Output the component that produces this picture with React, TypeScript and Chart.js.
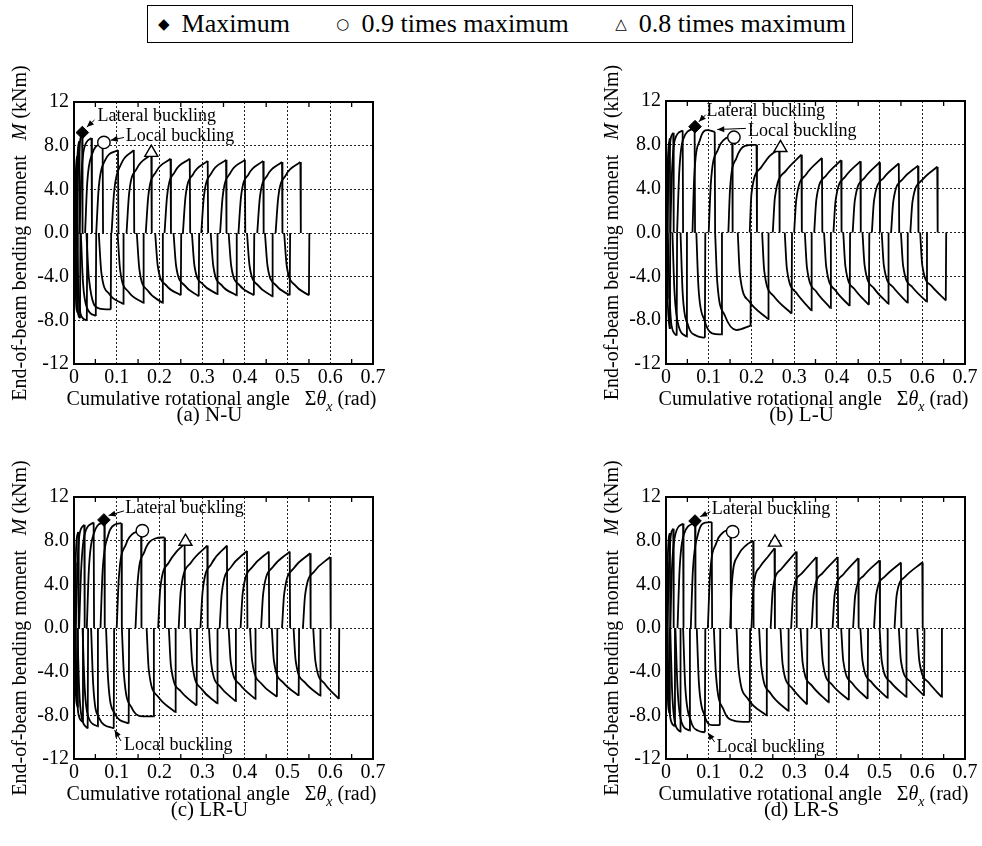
import React, { useEffect, useRef } from 'react';
import { Chart, registerables } from 'chart.js';

Chart.register(...registerables);

const SERIF = '"Liberation Serif", "Times New Roman", Times, serif';
Chart.defaults.font.family = SERIF;
Chart.defaults.color = '#000';

// ---------- axis ticks ----------
const X_TICKS = [0, 0.1, 0.2, 0.3, 0.4, 0.5, 0.6, 0.7];
const X_TICK_LABELS = ['0', '0.1', '0.2', '0.3', '0.4', '0.5', '0.6', '0.7'];
const X_MINOR = [0.05, 0.15, 0.25, 0.35, 0.45, 0.55, 0.65];
const Y_TICKS = [-12, -8, -4, 0, 4, 8, 12];
const Y_TICK_LABELS = ['-12', '-8.0', '-4.0', '0.0', '4.0', '8.0', '12'];

// ---------- data: each half-cycle as [x,M, x,M, ..., peakX,peakM, endX,0] ----------
// (a) N-U
const A_POS = [
  [0.000, 0, 0.001, 2.5, 0.002, 3.8, 0.003, 4.3, 0.004, 0],
  [0.001, 0, 0.003, 4.0, 0.005, 6.2, 0.007, 7.0, 0.008, 0],
  [0.003, 0, 0.006, 5.0, 0.009, 7.6, 0.012, 8.4, 0.013, 0],
  [0.006, 0, 0.009, 5.0, 0.013, 8.0, 0.019, 9.2, 0.020, 0],
  [0.013, 0, 0.017, 5.0, 0.024, 7.8, 0.041, 8.7, 0.042, 0],
  [0.026, 0, 0.031, 4.6, 0.042, 7.2, 0.067, 8.3, 0.068, 0],
  [0.052, 0, 0.058, 4.2, 0.072, 6.6, 0.103, 7.6, 0.104, 0],
  [0.088, 0, 0.094, 3.8, 0.110, 6.3, 0.140, 7.6, 0.141, 0],
  [0.123, 0, 0.129, 3.6, 0.147, 5.9, 0.181, 7.2, 0.182, 0],
  [0.168, 0, 0.174, 3.4, 0.192, 5.6, 0.226, 6.8, 0.227, 0],
  [0.212, 0, 0.218, 3.4, 0.236, 5.6, 0.271, 6.8, 0.272, 0],
  [0.255, 0, 0.261, 3.3, 0.279, 5.4, 0.313, 6.6, 0.314, 0],
  [0.298, 0, 0.304, 3.3, 0.322, 5.5, 0.356, 6.7, 0.357, 0],
  [0.342, 0, 0.348, 3.3, 0.366, 5.5, 0.400, 6.7, 0.401, 0],
  [0.385, 0, 0.391, 3.3, 0.409, 5.4, 0.443, 6.6, 0.444, 0],
  [0.429, 0, 0.435, 3.2, 0.453, 5.3, 0.487, 6.5, 0.488, 0],
  [0.472, 0, 0.478, 3.2, 0.496, 5.3, 0.530, 6.5, 0.531, 0],
];
const A_NEG = [
  [0.000, 0, 0.001, -2.5, 0.002, -4.0, 0.003, -4.5, 0.004, 0],
  [0.001, 0, 0.003, -4.0, 0.005, -6.5, 0.008, -7.3, 0.009, 0],
  [0.003, 0, 0.006, -4.5, 0.009, -7.2, 0.014, -7.8, 0.015, 0],
  [0.006, 0, 0.010, -4.8, 0.016, -7.5, 0.030, -8.0, 0.031, 0],
  [0.016, 0, 0.021, -4.5, 0.031, -6.9, 0.051, -7.6, 0.052, 0],
  [0.029, 0, 0.035, -4.2, 0.058, -6.9, 0.086, -7.0, 0.087, 0],
  [0.058, 0, 0.064, -3.6, 0.083, -5.6, 0.115, -6.5, 0.116, 0],
  [0.102, 0, 0.108, -3.4, 0.128, -5.4, 0.162, -6.4, 0.163, 0],
  [0.147, 0, 0.153, -3.3, 0.173, -5.3, 0.207, -6.4, 0.208, 0],
  [0.190, 0, 0.196, -3.0, 0.216, -4.8, 0.250, -5.7, 0.251, 0],
  [0.233, 0, 0.239, -3.0, 0.259, -4.8, 0.292, -5.8, 0.293, 0],
  [0.276, 0, 0.282, -3.0, 0.302, -4.7, 0.335, -5.6, 0.336, 0],
  [0.320, 0, 0.326, -3.0, 0.346, -4.8, 0.380, -5.7, 0.381, 0],
  [0.362, 0, 0.368, -3.0, 0.388, -4.8, 0.421, -5.7, 0.422, 0],
  [0.405, 0, 0.411, -3.0, 0.431, -4.8, 0.464, -5.8, 0.465, 0],
  [0.447, 0, 0.453, -3.0, 0.473, -4.8, 0.505, -5.7, 0.506, 0],
  [0.492, 0, 0.498, -3.0, 0.518, -4.8, 0.550, -5.7, 0.551, 0],
];
const A_MAX = [0.0195, 9.2];
const A_090 = [0.070, 8.3];
const A_080 = [0.181, 7.36];

// (b) L-U
const B_POS = [
  [0.000, 0, 0.001, 3.0, 0.002, 5.0, 0.003, 5.8, 0.004, 0],
  [0.001, 0, 0.003, 5.0, 0.006, 7.8, 0.009, 8.6, 0.010, 0],
  [0.003, 0, 0.006, 5.5, 0.010, 8.3, 0.017, 9.1, 0.018, 0],
  [0.010, 0, 0.014, 5.5, 0.021, 8.5, 0.039, 9.3, 0.040, 0],
  [0.026, 0, 0.031, 5.5, 0.040, 8.5, 0.067, 9.5, 0.068, 0],
  [0.062, 0, 0.066, 5.0, 0.080, 8.5, 0.097, 9.35, 0.114, 9.2, 0.115, 0],
  [0.100, 0, 0.105, 4.5, 0.122, 7.6, 0.140, 8.6, 0.155, 8.75, 0.156, 0],
  [0.146, 0, 0.150, 4.0, 0.165, 6.8, 0.185, 7.9, 0.212, 8.0, 0.213, 0],
  [0.196, 0, 0.200, 3.5, 0.222, 5.9, 0.243, 7.0, 0.265, 7.6, 0.266, 0],
  [0.250, 0, 0.255, 3.2, 0.280, 5.6, 0.317, 7.1, 0.318, 0],
  [0.300, 0, 0.305, 3.0, 0.328, 5.3, 0.365, 6.8, 0.366, 0],
  [0.347, 0, 0.352, 3.0, 0.375, 5.2, 0.410, 6.6, 0.411, 0],
  [0.392, 0, 0.397, 2.9, 0.420, 5.1, 0.455, 6.5, 0.456, 0],
  [0.437, 0, 0.442, 2.9, 0.465, 5.0, 0.500, 6.4, 0.501, 0],
  [0.482, 0, 0.487, 2.9, 0.510, 5.0, 0.545, 6.3, 0.546, 0],
  [0.527, 0, 0.532, 2.8, 0.555, 4.9, 0.590, 6.1, 0.591, 0],
  [0.572, 0, 0.577, 2.8, 0.600, 4.8, 0.635, 6.0, 0.636, 0],
];
const B_NEG = [
  [0.000, 0, 0.001, -3.0, 0.002, -5.0, 0.003, -6.0, 0.004, 0],
  [0.001, 0, 0.003, -5.0, 0.006, -7.8, 0.009, -8.8, 0.010, 0],
  [0.004, 0, 0.008, -5.5, 0.013, -8.5, 0.025, -9.4, 0.026, 0],
  [0.015, 0, 0.020, -5.5, 0.030, -8.6, 0.048, -9.5, 0.049, 0],
  [0.034, 0, 0.039, -5.5, 0.052, -8.5, 0.070, -9.4, 0.091, -9.6, 0.092, 0],
  [0.071, 0, 0.076, -5.0, 0.090, -8.0, 0.108, -9.2, 0.130, -9.3, 0.131, 0],
  [0.115, 0, 0.120, -4.5, 0.138, -7.6, 0.165, -8.9, 0.198, -8.5, 0.199, 0],
  [0.168, 0, 0.173, -3.8, 0.195, -6.3, 0.239, -7.9, 0.240, 0],
  [0.225, 0, 0.230, -3.5, 0.252, -5.8, 0.294, -7.4, 0.295, 0],
  [0.278, 0, 0.283, -3.3, 0.305, -5.5, 0.340, -7.1, 0.341, 0],
  [0.325, 0, 0.330, -3.2, 0.352, -5.4, 0.385, -6.9, 0.386, 0],
  [0.370, 0, 0.375, -3.1, 0.397, -5.3, 0.430, -6.7, 0.431, 0],
  [0.415, 0, 0.420, -3.1, 0.442, -5.2, 0.475, -6.6, 0.476, 0],
  [0.460, 0, 0.465, -3.0, 0.487, -5.1, 0.520, -6.5, 0.521, 0],
  [0.505, 0, 0.510, -3.0, 0.532, -5.0, 0.565, -6.4, 0.566, 0],
  [0.550, 0, 0.555, -3.0, 0.577, -5.0, 0.610, -6.3, 0.611, 0],
  [0.595, 0, 0.600, -3.0, 0.622, -4.9, 0.655, -6.2, 0.656, 0],
];
const B_MAX = [0.068, 9.66];
const B_090 = [0.159, 8.69];
const B_080 = [0.268, 7.73];

// (c) LR-U
const C_POS = [
  [0.000, 0, 0.001, 3.0, 0.002, 5.0, 0.003, 6.0, 0.004, 0],
  [0.001, 0, 0.003, 5.0, 0.006, 8.0, 0.010, 8.8, 0.011, 0],
  [0.004, 0, 0.008, 5.5, 0.013, 8.6, 0.024, 9.45, 0.025, 0],
  [0.012, 0, 0.017, 5.5, 0.025, 8.6, 0.046, 9.66, 0.047, 0],
  [0.030, 0, 0.035, 5.5, 0.046, 8.6, 0.071, 9.8, 0.072, 0],
  [0.062, 0, 0.067, 5.2, 0.080, 8.5, 0.095, 9.45, 0.111, 9.6, 0.112, 0],
  [0.100, 0, 0.105, 4.6, 0.122, 7.7, 0.140, 8.7, 0.157, 8.85, 0.158, 0],
  [0.144, 0, 0.149, 4.2, 0.165, 7.0, 0.190, 8.2, 0.212, 8.3, 0.213, 0],
  [0.197, 0, 0.202, 3.6, 0.222, 6.0, 0.240, 7.0, 0.259, 7.7, 0.260, 0],
  [0.245, 0, 0.250, 3.4, 0.274, 6.0, 0.312, 7.55, 0.313, 0],
  [0.296, 0, 0.301, 3.3, 0.322, 5.9, 0.358, 7.55, 0.359, 0],
  [0.341, 0, 0.346, 3.2, 0.368, 5.6, 0.405, 7.06, 0.406, 0],
  [0.390, 0, 0.395, 3.2, 0.418, 5.6, 0.456, 7.0, 0.457, 0],
  [0.438, 0, 0.443, 3.2, 0.466, 5.6, 0.505, 7.0, 0.506, 0],
  [0.487, 0, 0.492, 3.1, 0.515, 5.5, 0.553, 6.85, 0.554, 0],
  [0.536, 0, 0.541, 3.0, 0.563, 5.2, 0.600, 6.5, 0.601, 0],
];
const C_NEG = [
  [0.000, 0, 0.001, -3.0, 0.002, -5.0, 0.003, -6.0, 0.004, 0],
  [0.001, 0, 0.003, -4.5, 0.005, -6.5, 0.008, -7.2, 0.009, 0],
  [0.003, 0, 0.006, -5.0, 0.010, -7.8, 0.020, -8.6, 0.021, 0],
  [0.008, 0, 0.012, -5.5, 0.018, -8.2, 0.032, -9.2, 0.033, 0],
  [0.020, 0, 0.025, -5.5, 0.034, -8.2, 0.055, -9.0, 0.056, 0],
  [0.040, 0, 0.045, -5.2, 0.058, -8.2, 0.093, -9.2, 0.094, 0],
  [0.075, 0, 0.080, -4.8, 0.095, -7.8, 0.128, -8.75, 0.129, 0],
  [0.112, 0, 0.117, -4.3, 0.135, -7.3, 0.163, -8.1, 0.186, -8.1, 0.187, 0],
  [0.170, 0, 0.175, -3.8, 0.197, -6.3, 0.237, -7.7, 0.238, 0],
  [0.222, 0, 0.227, -3.5, 0.250, -5.8, 0.287, -7.1, 0.288, 0],
  [0.272, 0, 0.277, -3.3, 0.299, -5.6, 0.335, -6.9, 0.336, 0],
  [0.316, 0, 0.321, -3.2, 0.343, -5.4, 0.378, -6.7, 0.379, 0],
  [0.362, 0, 0.367, -3.1, 0.389, -5.2, 0.424, -6.5, 0.425, 0],
  [0.412, 0, 0.417, -3.0, 0.439, -5.1, 0.475, -6.3, 0.476, 0],
  [0.463, 0, 0.468, -3.0, 0.490, -5.0, 0.526, -6.2, 0.527, 0],
  [0.514, 0, 0.519, -3.0, 0.541, -5.0, 0.576, -6.2, 0.577, 0],
  [0.560, 0, 0.565, -3.0, 0.587, -5.1, 0.620, -6.5, 0.621, 0],
];
const C_MAX = [0.070, 9.9];
const C_090 = [0.160, 8.91];
const C_080 = [0.261, 7.92];

// (d) LR-S
const D_POS = [
  [0.000, 0, 0.001, 3.0, 0.002, 5.0, 0.003, 6.0, 0.004, 0],
  [0.001, 0, 0.003, 5.0, 0.006, 8.0, 0.009, 8.7, 0.010, 0],
  [0.003, 0, 0.007, 5.5, 0.011, 8.4, 0.017, 9.1, 0.018, 0],
  [0.010, 0, 0.014, 5.5, 0.022, 8.6, 0.040, 9.57, 0.041, 0],
  [0.027, 0, 0.032, 5.5, 0.042, 8.6, 0.068, 9.65, 0.069, 0],
  [0.058, 0, 0.063, 5.3, 0.075, 8.6, 0.092, 9.65, 0.107, 9.7, 0.108, 0],
  [0.098, 0, 0.103, 4.8, 0.118, 7.8, 0.135, 8.8, 0.151, 9.0, 0.152, 0],
  [0.150, 0, 0.155, 4.5, 0.168, 6.6, 0.188, 7.6, 0.204, 8.0, 0.205, 0],
  [0.200, 0, 0.205, 3.8, 0.220, 5.6, 0.240, 6.6, 0.254, 7.3, 0.255, 0],
  [0.245, 0, 0.250, 3.5, 0.270, 5.4, 0.305, 7.0, 0.306, 0],
  [0.293, 0, 0.298, 3.3, 0.318, 5.0, 0.352, 6.5, 0.353, 0],
  [0.341, 0, 0.346, 3.2, 0.366, 5.0, 0.402, 6.5, 0.403, 0],
  [0.390, 0, 0.395, 3.1, 0.415, 4.9, 0.450, 6.4, 0.451, 0],
  [0.438, 0, 0.443, 3.0, 0.463, 4.8, 0.500, 6.2, 0.501, 0],
  [0.487, 0, 0.492, 3.0, 0.512, 4.7, 0.550, 6.0, 0.551, 0],
  [0.535, 0, 0.540, 3.0, 0.560, 4.7, 0.600, 6.0, 0.601, 0],
];
const D_NEG = [
  [0.000, 0, 0.001, -3.0, 0.002, -5.0, 0.003, -6.0, 0.004, 0],
  [0.001, 0, 0.003, -5.0, 0.005, -7.0, 0.008, -7.8, 0.009, 0],
  [0.003, 0, 0.006, -5.5, 0.010, -8.2, 0.020, -9.0, 0.021, 0],
  [0.010, 0, 0.014, -5.5, 0.020, -8.5, 0.033, -9.5, 0.034, 0],
  [0.022, 0, 0.027, -5.5, 0.036, -8.6, 0.055, -9.4, 0.056, 0],
  [0.040, 0, 0.045, -5.3, 0.058, -8.5, 0.075, -9.4, 0.091, -9.55, 0.092, 0],
  [0.072, 0, 0.077, -5.0, 0.090, -8.0, 0.108, -8.9, 0.126, -8.9, 0.127, 0],
  [0.112, 0, 0.117, -4.3, 0.135, -7.5, 0.160, -8.5, 0.196, -8.6, 0.197, 0],
  [0.165, 0, 0.170, -3.8, 0.192, -6.5, 0.235, -8.0, 0.236, 0],
  [0.218, 0, 0.223, -3.5, 0.245, -6.0, 0.286, -7.6, 0.287, 0],
  [0.268, 0, 0.273, -3.3, 0.295, -5.5, 0.330, -7.0, 0.331, 0],
  [0.315, 0, 0.320, -3.2, 0.342, -5.3, 0.380, -6.8, 0.381, 0],
  [0.362, 0, 0.367, -3.1, 0.389, -5.2, 0.428, -6.6, 0.429, 0],
  [0.410, 0, 0.415, -3.0, 0.437, -5.1, 0.472, -6.5, 0.473, 0],
  [0.455, 0, 0.460, -3.0, 0.482, -5.0, 0.518, -6.4, 0.519, 0],
  [0.500, 0, 0.505, -3.0, 0.527, -5.0, 0.562, -6.3, 0.563, 0],
  [0.545, 0, 0.550, -3.0, 0.572, -4.9, 0.604, -6.2, 0.605, 0],
  [0.588, 0, 0.593, -3.0, 0.615, -5.0, 0.645, -6.3, 0.646, 0],
];
const D_MAX = [0.068, 9.8];
const D_090 = [0.156, 8.82];
const D_080 = [0.255, 7.84];

// ---------- texts ----------
const LEGEND_ITEMS = [
  { sym: '\u25C6', label: 'Maximum' },
  { sym: '\u25CB', label: '0.9 times maximum' },
  { sym: '\u25B3', label: '0.8 times maximum' },
];
const LATERAL = 'Lateral buckling';
const LOCAL = 'Local buckling';

// ---------- layout ----------
const PANELS = [
  {
    key: 'a', title: '(a) N-U', left: 74, top: 102, w: 299, h: 262,
    pos: A_POS, neg: A_NEG, mk: [A_MAX, A_090, A_080],
    notes: [
      { text: LATERAL, tx: 0.055, ty: 10.7, ax: 0.048, ay: 10.35, bx: 0.030, by: 9.7 },
      { text: LOCAL, tx: 0.121, ty: 8.84, ax: 0.117, ay: 8.75, bx: 0.086, by: 8.5 },
    ],
  },
  {
    key: 'b', title: '(b) L-U', left: 666, top: 101, w: 299, h: 263,
    pos: B_POS, neg: B_NEG, mk: [B_MAX, B_090, B_080],
    notes: [
      { text: LATERAL, tx: 0.095, ty: 11.1, ax: 0.093, ay: 10.75, bx: 0.077, by: 10.1 },
      { text: LOCAL, tx: 0.192, ty: 9.25, ax: 0.187, ay: 9.5, bx: 0.120, by: 9.4 },
    ],
  },
  {
    key: 'c', title: '(c) LR-U', left: 74, top: 497, w: 299, h: 262,
    pos: C_POS, neg: C_NEG, mk: [C_MAX, C_090, C_080],
    notes: [
      { text: LATERAL, tx: 0.120, ty: 11.0, ax: 0.117, ay: 10.73, bx: 0.081, by: 10.3 },
      { text: LOCAL, tx: 0.117, ty: -10.75, ax: 0.110, ay: -10.35, bx: 0.095, by: -9.35 },
    ],
  },
  {
    key: 'd', title: '(d) LR-S', left: 666, top: 497, w: 299, h: 262,
    pos: D_POS, neg: D_NEG, mk: [D_MAX, D_090, D_080],
    notes: [
      { text: LATERAL, tx: 0.107, ty: 10.9, ax: 0.104, ay: 10.65, bx: 0.080, by: 10.2 },
      { text: LOCAL, tx: 0.118, ty: -10.9, ax: 0.114, ay: -10.45, bx: 0.098, by: -9.6 },
    ],
  },
];

const PAD_L = 70; // canvas px left of plot
const PAD_T = 52;
const PAD_R = 16;
const PAD_B = 70;
const TICK_FS = 20;
const TITLE_FS = 20;
const NOTE_FS = 18;

function buildDatasets(pos: number[][], neg: number[][], mk: number[][]) {
  const ds: any[] = [];
  ds.push({ data: [{ x: mk[0][0], y: mk[0][1] }], pointStyle: 'rectRot', pointRadius: 6.3, backgroundColor: '#000', borderColor: '#000', borderWidth: 1, showLine: false });
  ds.push({ data: [{ x: mk[1][0], y: mk[1][1] }], pointStyle: 'circle', pointRadius: 6.2, backgroundColor: '#fff', borderColor: '#000', borderWidth: 1.4, showLine: false });
  ds.push({ data: [{ x: mk[2][0], y: mk[2][1] }], pointStyle: 'triangle', pointRadius: 7.5, backgroundColor: '#fff', borderColor: '#000', borderWidth: 1.4, showLine: false });
  const drops: any[] = [];
  [...pos, ...neg].forEach((t) => {
    const pts: any[] = [];
    for (let i = 0; i < t.length - 2; i += 2) pts.push({ x: t[i], y: t[i + 1] });
    ds.push({ data: pts, showLine: true, pointRadius: 0, borderColor: '#000', borderWidth: 1.8, cubicInterpolationMode: 'monotone', fill: false });
    const n = t.length;
    drops.push({ x: t[n - 4], y: t[n - 3] }, { x: t[n - 2], y: t[n - 1] }, { x: t[n - 2], y: null });
  });
  ds.push({ data: drops, showLine: true, spanGaps: false, pointRadius: 0, borderColor: '#000', borderWidth: 1.8, fill: false });
  return ds;
}

type Run = { t: string; it?: boolean; sub?: boolean };

function drawRuns(ctx: CanvasRenderingContext2D, runs: Run[], cx: number, cy: number, size: number) {
  const fontOf = (r: Run) => `${r.it ? 'italic ' : ''}${r.sub ? Math.round(size * 0.7) : size}px ${SERIF}`;
  let total = 0;
  runs.forEach((r) => { ctx.font = fontOf(r); total += ctx.measureText(r.t).width; });
  let x = cx - total / 2;
  ctx.textAlign = 'left';
  ctx.textBaseline = 'alphabetic';
  runs.forEach((r) => {
    ctx.font = fontOf(r);
    ctx.fillText(r.t, x, cy + (r.sub ? size * 0.28 : 0));
    x += ctx.measureText(r.t).width;
  });
}

function arrow(ctx: CanvasRenderingContext2D, x1: number, y1: number, x2: number, y2: number) {
  ctx.beginPath();
  ctx.moveTo(x1, y1);
  ctx.lineTo(x2, y2);
  ctx.stroke();
  const a = Math.atan2(y2 - y1, x2 - x1);
  const L = 7, W = 3;
  ctx.beginPath();
  ctx.moveTo(x2, y2);
  ctx.lineTo(x2 - L * Math.cos(a) + W * Math.sin(a), y2 - L * Math.sin(a) - W * Math.cos(a));
  ctx.lineTo(x2 - L * Math.cos(a) - W * Math.sin(a), y2 - L * Math.sin(a) + W * Math.cos(a));
  ctx.closePath();
  ctx.fill();
}

function makeDecor(p: any) {
  return {
    id: 'decor_' + p.key,
    afterDraw(chart: any) {
      const { ctx, chartArea: ca, scales } = chart;
      const xs = scales.x, ys = scales.y;
      ctx.save();
      // frame
      ctx.strokeStyle = '#000';
      ctx.lineWidth = 2;
      ctx.strokeRect(ca.left, ca.top, ca.right - ca.left, ca.bottom - ca.top);
      // minor ticks (inward)
      ctx.lineWidth = 1.3;
      X_MINOR.forEach((v) => {
        const px = xs.getPixelForValue(v);
        ctx.beginPath();
        ctx.moveTo(px, ca.top); ctx.lineTo(px, ca.top + 5);
        ctx.moveTo(px, ca.bottom); ctx.lineTo(px, ca.bottom - 5);
        ctx.stroke();
      });
      // annotations
      ctx.fillStyle = '#000';
      ctx.lineWidth = 1;
      p.notes.forEach((n: any) => {
        ctx.font = `${NOTE_FS}px ${SERIF}`;
        ctx.textAlign = 'left';
        ctx.textBaseline = 'middle';
        ctx.fillText(n.text, xs.getPixelForValue(n.tx), ys.getPixelForValue(n.ty));
        arrow(ctx, xs.getPixelForValue(n.ax), ys.getPixelForValue(n.ay), xs.getPixelForValue(n.bx), ys.getPixelForValue(n.by));
      });
      // x title
      drawRuns(ctx, [
        { t: 'Cumulative rotational angle   \u03A3' },
        { t: '\u03B8', it: true },
        { t: 'x', it: true, sub: true },
        { t: ' (rad)' },
      ], (ca.left + ca.right) / 2 - 2, ca.bottom + 41, TITLE_FS);
      // y title
      ctx.translate(ca.left - 55, (ca.top + ca.bottom) / 2);
      ctx.rotate(-Math.PI / 2);
      drawRuns(ctx, [
        { t: 'End-of-beam bending moment   ' },
        { t: 'M', it: true },
        { t: ' (kNm)' },
      ], 0, 7, TITLE_FS);
      ctx.restore();
    },
  };
}

function Panel({ p }: { p: any }) {
  const ref = useRef<HTMLCanvasElement>(null);
  const W = PAD_L + p.w + PAD_R;
  const H = PAD_T + p.h + PAD_B;
  useEffect(() => {
    const chart = new Chart(ref.current as HTMLCanvasElement, {
      type: 'scatter',
      data: { datasets: buildDatasets(p.pos, p.neg, p.mk) },
      options: {
        responsive: false,
        animation: false,
        events: [],
        layout: { padding: { left: PAD_L - 60, right: PAD_R, top: PAD_T, bottom: PAD_B - 30 } },
        plugins: { legend: { display: false }, tooltip: { enabled: false }, title: { display: false } },
        scales: {
          x: {
            type: 'linear', min: 0, max: 0.7,
            afterBuildTicks: (s: any) => { s.ticks = X_TICKS.map((v) => ({ value: v })); },
            afterFit: (s: any) => { s.height = 30; },
            ticks: {
              autoSkip: false, maxRotation: 0, padding: 2, color: '#000', font: { size: TICK_FS, family: SERIF },
              callback: (v: any) => { const i = X_TICKS.findIndex((t) => Math.abs(t - v) < 1e-9); return i >= 0 ? X_TICK_LABELS[i] : ''; },
            },
            grid: { color: '#222', lineWidth: 1, drawTicks: false },
            border: { display: false, dash: [2, 2] },
          },
          y: {
            type: 'linear', min: -12, max: 12,
            afterBuildTicks: (s: any) => { s.ticks = Y_TICKS.map((v) => ({ value: v })); },
            afterFit: (s: any) => { s.width = 60; },
            ticks: {
              autoSkip: false, padding: 5, color: '#000', font: { size: TICK_FS, family: SERIF },
              callback: (v: any) => { const i = Y_TICKS.findIndex((t) => Math.abs(t - v) < 1e-9); return i >= 0 ? Y_TICK_LABELS[i] : ''; },
            },
            grid: { color: '#222', lineWidth: 1, drawTicks: false },
            border: { display: false, dash: [2, 2] },
          },
        },
      },
      plugins: [makeDecor(p)],
    } as any);
    return () => chart.destroy();
  }, []);
  return (
    <>
      <canvas ref={ref} width={W} height={H}
        style={{ position: 'absolute', left: p.left - PAD_L, top: p.top - PAD_T, width: W, height: H }} />
      <div style={{ position: 'absolute', left: p.left - 14, width: p.w, top: p.top + p.h + 38, textAlign: 'center', fontFamily: SERIF, fontSize: 21, lineHeight: '24px', color: '#000' }}>
        {p.title}
      </div>
    </>
  );
}

function Legend() {
  return (
    <div style={{
      position: 'absolute', left: 147, top: 5, width: 706, height: 38, boxSizing: 'border-box',
      border: '1.5px solid #000', display: 'flex', alignItems: 'center', justifyContent: 'space-between',
      padding: '0 6px 0 10px', fontFamily: SERIF, fontSize: 26, color: '#000', background: '#fff',
    }}>
      {LEGEND_ITEMS.map((it) => (
        <span key={it.label} style={{ whiteSpace: 'nowrap', display: 'flex', alignItems: 'center' }}>
          <span style={{ fontFamily: '"DejaVu Sans", sans-serif', fontSize: 15, marginRight: 12 }}>{it.sym}</span>
          <span>{it.label}</span>
        </span>
      ))}
    </div>
  );
}

export default function App() {
  return (
    <div style={{ position: 'absolute', left: 0, top: 0, width: 982, height: 846, overflow: 'hidden', background: '#fff' }}>
      <Legend />
      {PANELS.map((p) => <Panel key={p.key} p={p} />)}
    </div>
  );
}
